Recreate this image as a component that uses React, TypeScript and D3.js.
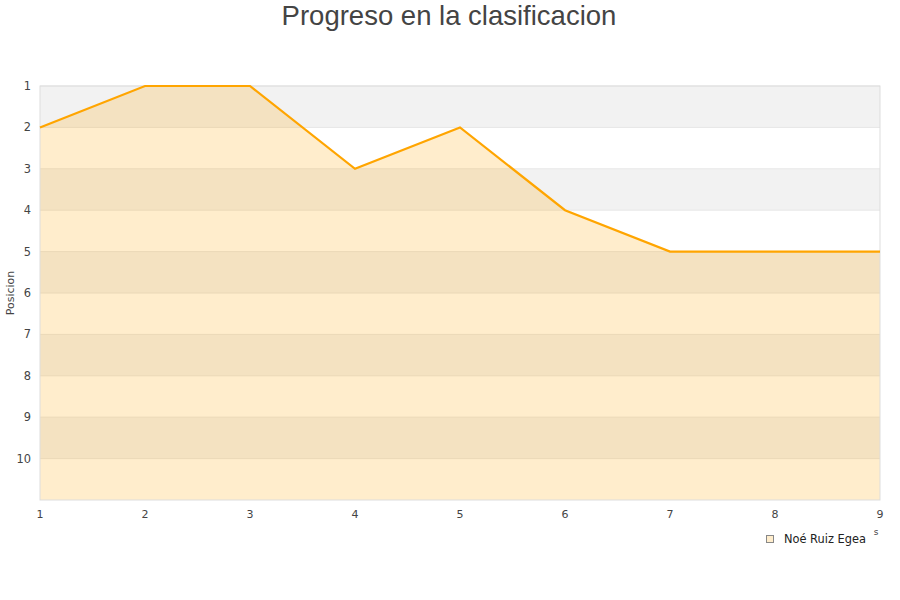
import React from "react";
import * as d3 from "d3";

const jornadas = [1, 2, 3, 4, 5, 6, 7, 8, 9];
const posiciones = [2, 1, 1, 3, 2, 4, 5, 5, 5];
const yTicks = [1, 2, 3, 4, 5, 6, 7, 8, 9, 10];
const seriesName = "Noé Ruiz Egea";
const title = "Progreso en la clasificacion";
const yTitle = "Posicion";

export default function App() {
  const W = 900, H = 600;
  const left = 40, right = 880, top = 86, bottom = 500;
  const x = d3.scaleLinear().domain([1, 9]).range([left, right]);
  const y = d3.scaleLinear().domain([1, 11]).range([top, bottom]);
  const pts: [number, number][] = jornadas.map((j, i) => [j, posiciones[i]]);
  const line = d3.line<[number, number]>().x(d => x(d[0])).y(d => y(d[1]));
  const area = d3.area<[number, number]>().x(d => x(d[0])).y0(y(11)).y1(d => y(d[1]));
  const bands = d3.range(1, 11);
  const font = "'DejaVu Sans', Verdana, sans-serif";
  return (
    <svg width={W} height={H} style={{ position: "absolute", left: 0, top: 0, fontFamily: font }}>
      <rect x={0} y={0} width={W} height={H} fill="#fff" />
      <text x={449} y={25} textAnchor="middle" fontSize={27.5} fill="#444"
        style={{ fontFamily: "'Liberation Sans', Arial, sans-serif" }}>{title}</text>
      {bands.map(b => (
        <rect key={b} x={left} y={y(b)} width={right - left} height={y(b + 1) - y(b)}
          fill={b % 2 === 1 ? "#f2f2f2" : "#ffffff"} />
      ))}
      {yTicks.map(t => (
        <line key={"g" + t} x1={left} x2={right} y1={y(t)} y2={y(t)} stroke="#e6e6e6" strokeWidth={1} />
      ))}
      <path d={area(pts) || ""} fill="#ffa500" fillOpacity={0.2} />
      <rect x={left} y={top} width={right - left} height={bottom - top} fill="none" stroke="#dddddd" strokeWidth={1} />
      <path d={line(pts) || ""} fill="none" stroke="#ffa500" strokeWidth={2.2} />
      {yTicks.map(t => (
        <text key={"y" + t} x={31} y={y(t) + 4} textAnchor="end" fontSize={11.4} fill="#444">{t}</text>
      ))}
      {jornadas.map(j => (
        <text key={"x" + j} x={x(j)} y={518} textAnchor="middle" fontSize={11} fill="#444">{j}</text>
      ))}
      <text transform={`translate(14,${(top + bottom) / 2}) rotate(-90)`} textAnchor="middle" fontSize={11} fill="#444">{yTitle}</text>
      <text x={876} y={535} textAnchor="middle" fontSize={9} fill="#444">s</text>
      <rect x={766.5} y={535.5} width={7} height={7} fill="#ffedcc" stroke="#888" strokeWidth={1} />
      <text x={784} y={543} fontSize={11.4} fill="#222">{seriesName}</text>
    </svg>
  );
}
